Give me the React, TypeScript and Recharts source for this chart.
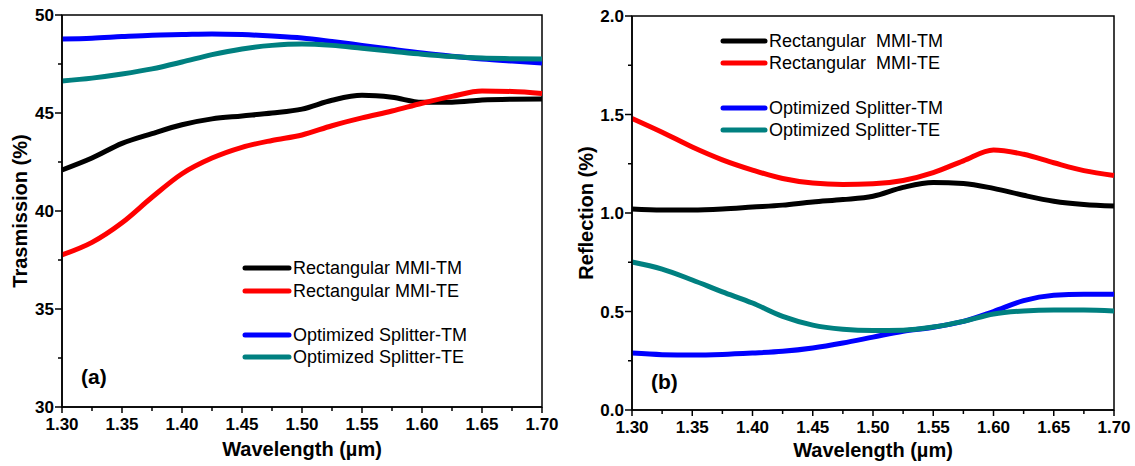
import { Line, LineChart, ReferenceArea, XAxis, YAxis } from 'recharts'

const WAVELENGTH = [
  1.3, 1.325, 1.35, 1.375, 1.4, 1.425, 1.45, 1.475, 1.5, 1.525, 1.55, 1.575, 1.6, 1.625, 1.65, 1.675, 1.7,
]

// (a) transmission, %
const transRectTM = [42.09, 42.7, 43.45, 43.95, 44.4, 44.7, 44.85, 45.0, 45.2, 45.65, 45.9, 45.8, 45.55, 45.55, 45.66, 45.7, 45.71]
const transRectTE = [37.76, 38.4, 39.4, 40.7, 41.9, 42.7, 43.25, 43.6, 43.88, 44.35, 44.75, 45.1, 45.5, 45.85, 46.12, 46.1, 46.0]
const transOptTM = [48.78, 48.82, 48.9, 48.97, 49.0, 49.03, 49.0, 48.93, 48.83, 48.65, 48.45, 48.25, 48.06, 47.9, 47.76, 47.65, 47.55]
const transOptTE = [46.63, 46.78, 46.99, 47.25, 47.6, 47.98, 48.27, 48.45, 48.52, 48.45, 48.3, 48.15, 48.0, 47.88, 47.8, 47.77, 47.75]

// (b) reflection, %
const reflRectTM = [1.02, 1.015, 1.015, 1.02, 1.03, 1.04, 1.056, 1.068, 1.085, 1.13, 1.155, 1.15, 1.125, 1.09, 1.06, 1.043, 1.035]
const reflRectTE = [1.48, 1.41, 1.335, 1.27, 1.218, 1.175, 1.152, 1.145, 1.148, 1.165, 1.205, 1.265, 1.32, 1.298, 1.255, 1.215, 1.19]
const reflOptTM = [0.289, 0.281, 0.279, 0.282, 0.289, 0.298, 0.315, 0.34, 0.37, 0.4, 0.42, 0.45, 0.5, 0.555, 0.582, 0.588, 0.588]
const reflOptTE = [0.751, 0.715, 0.66, 0.6, 0.543, 0.475, 0.431, 0.41, 0.403, 0.405, 0.421, 0.45, 0.487, 0.503, 0.508, 0.507, 0.503]

const X_TICKS = [1.3, 1.325, 1.35, 1.375, 1.4, 1.425, 1.45, 1.475, 1.5, 1.525, 1.55, 1.575, 1.6, 1.625, 1.65, 1.675, 1.7]
const TRANS_TICKS = [30, 32.5, 35, 37.5, 40, 42.5, 45, 47.5, 50]
const REFL_TICKS = [0, 0.25, 0.5, 0.75, 1, 1.25, 1.5, 1.75, 2]

const NAMES_A = ['Rectangular MMI-TM', 'Rectangular MMI-TE', 'Optimized Splitter-TM', 'Optimized Splitter-TE']
const NAMES_B = ['Rectangular  MMI-TM', 'Rectangular  MMI-TE', 'Optimized Splitter-TM', 'Optimized Splitter-TE']
const COLORS = ['#000000', '#ff0000', '#0000ff', '#008080']

const FONT = '"Liberation Sans", Arial, sans-serif'

const toRows = (ys: number[]) => WAVELENGTH.map((x, i) => ({ x, y: ys[i] }))

function XTick(props: any) {
  const { x, y, payload } = props
  const v = payload.value as number
  const major = Math.abs(Math.round(v * 20) - v * 20) < 1e-6
  return (
    <g>
      <line x1={x} x2={x} y1={y} y2={y + (major ? 6 : 4)} stroke="#000" strokeWidth={1.5} />
      {major ? (
        <text x={x} y={y + 23} textAnchor="middle" fontFamily={FONT} fontWeight="bold" fontSize={17} fill="#000">
          {v.toFixed(2)}
        </text>
      ) : null}
    </g>
  )
}

function makeYTick(step: number, digits: number) {
  return function YTick(props: any) {
    const { x, y, payload } = props
    const v = payload.value as number
    const major = Math.abs(Math.round(v / step) - v / step) < 1e-6
    return (
      <g>
        <line x1={x} x2={x - (major ? 7 : 4)} y1={y} y2={y} stroke="#000" strokeWidth={1.5} />
        {major ? (
          <text x={x - 8} y={y + 6} textAnchor="end" fontFamily={FONT} fontWeight="bold" fontSize={17} fill="#000">
            {v.toFixed(digits)}
          </text>
        ) : null}
      </g>
    )
  }
}

function xLabel(baseline: number) {
  return (p: any) => {
    const vb = p.viewBox
    return (
      <text x={vb.x + vb.width / 2} y={vb.y + baseline} textAnchor="middle" fontFamily={FONT} fontWeight="bold" fontSize={20} fill="#000">
        Wavelength (µm)
      </text>
    )
  }
}

function LegendBox({ names, x, rowY, segLen }: { names: string[]; x: number; rowY: number[]; segLen: number }) {
  return (
    <g>
      {names.map((n, i) => (
        <g key={n}>
          <line x1={x} x2={x + segLen} y1={rowY[i]} y2={rowY[i]} stroke={COLORS[i]} strokeWidth={5} strokeLinecap="round" />
          <text x={x + segLen + 4} y={rowY[i] + 6} fontFamily={FONT} fontSize={18} fill="#000" style={{ whiteSpace: 'pre' }}>
            {n}
          </text>
        </g>
      ))}
    </g>
  )
}

export default function App() {
  const seriesA = [transRectTM, transRectTE, transOptTM, transOptTE]
  const seriesB = [reflRectTM, reflRectTE, reflOptTM, reflOptTE]
  return (
    <div style={{ position: 'absolute', left: 0, top: 0, width: 1135, height: 466, background: '#fff' }}>
      <div style={{ position: 'absolute', left: 0, top: 0 }}>
        <LineChart width={560} height={466} margin={{ top: 15, right: 18, bottom: 0, left: 0 }}>
          <ReferenceArea x1={1.3} x2={1.7} y1={30} y2={50} fill="none" stroke="#000" strokeWidth={1.5} ifOverflow="visible" />
          <XAxis
            type="number"
            dataKey="x"
            domain={[1.3, 1.7]}
            ticks={X_TICKS}
            interval={0}
            height={59}
            tickSize={0}
            tickMargin={0}
            tickLine={false}
            tick={<XTick />}
            axisLine={{ stroke: '#000', strokeWidth: 1.5 }}
            allowDuplicatedCategory={false}
            label={xLabel(49)}
          />
          <YAxis
            type="number"
            dataKey="y"
            domain={[30, 50]}
            ticks={TRANS_TICKS}
            interval={0}
            width={62}
            tickSize={0}
            tickMargin={0}
            tickLine={false}
            tick={makeYTick(5, 0)}
            axisLine={{ stroke: '#000', strokeWidth: 1.5 }}
          />
          {seriesA.map((s, i) => (
            <Line
              key={NAMES_A[i]}
              data={toRows(s)}
              dataKey="y"
              name={NAMES_A[i]}
              type="monotone"
              stroke={COLORS[i]}
              strokeWidth={5}
              dot={false}
              isAnimationActive={false}
            />
          ))}
        </LineChart>
      </div>

      <div style={{ position: 'absolute', left: 570, top: 0 }}>
        <LineChart width={565} height={466} margin={{ top: 16, right: 21, bottom: 0, left: 0 }}>
          <ReferenceArea x1={1.3} x2={1.7} y1={0} y2={2} fill="none" stroke="#000" strokeWidth={1.5} ifOverflow="visible" />
          <XAxis
            type="number"
            dataKey="x"
            domain={[1.3, 1.7]}
            ticks={X_TICKS}
            interval={0}
            height={56}
            tickSize={0}
            tickMargin={0}
            tickLine={false}
            tick={<XTick />}
            axisLine={{ stroke: '#000', strokeWidth: 1.5 }}
            allowDuplicatedCategory={false}
            label={xLabel(47)}
          />
          <YAxis
            type="number"
            dataKey="y"
            domain={[0, 2]}
            ticks={REFL_TICKS}
            interval={0}
            width={62}
            tickSize={0}
            tickMargin={0}
            tickLine={false}
            tick={makeYTick(0.5, 1)}
            axisLine={{ stroke: '#000', strokeWidth: 1.5 }}
          />
          {seriesB.map((s, i) => (
            <Line
              key={NAMES_B[i]}
              data={toRows(s)}
              dataKey="y"
              name={NAMES_B[i]}
              type="monotone"
              stroke={COLORS[i]}
              strokeWidth={5}
              dot={false}
              isAnimationActive={false}
            />
          ))}
        </LineChart>
      </div>

      <svg width={1135} height={466} style={{ position: 'absolute', left: 0, top: 0, pointerEvents: 'none' }}>
        <LegendBox names={NAMES_A} x={245} rowY={[268, 291, 335, 357]} segLen={44} />
        <LegendBox names={NAMES_B} x={723} rowY={[41, 63, 108, 130]} segLen={42} />
        <text x={27} y={211} transform="rotate(-90, 27, 211)" textAnchor="middle" fontFamily={FONT} fontWeight="bold" fontSize={20} fill="#000">
          Trasmission (%)
        </text>
        <text x={593} y={213} transform="rotate(-90, 593, 213)" textAnchor="middle" fontFamily={FONT} fontWeight="bold" fontSize={20} fill="#000">
          Reflection (%)
        </text>
        <text x={81} y={384} fontFamily={FONT} fontWeight="bold" fontSize={21} fill="#000">
          (a)
        </text>
        <text x={651} y={389} fontFamily={FONT} fontWeight="bold" fontSize={21} fill="#000">
          (b)
        </text>
      </svg>
    </div>
  )
}
